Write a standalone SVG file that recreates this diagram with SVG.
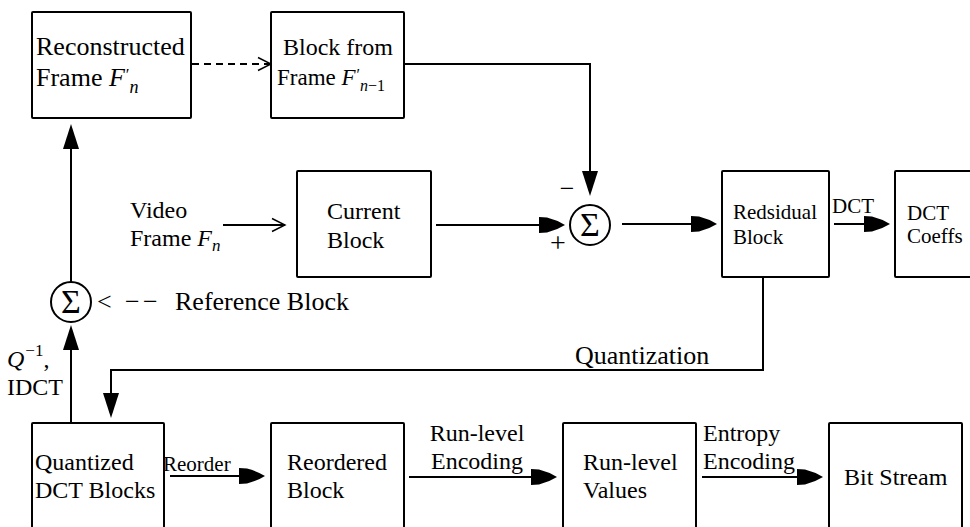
<svg xmlns="http://www.w3.org/2000/svg" width="970" height="527" viewBox="0 0 970 527">
<style>
.box{fill:#fff;stroke:#000;stroke-width:2}
.ln{fill:none;stroke:#000;stroke-width:2}
.t{font-family:"Liberation Serif","Times New Roman",serif;fill:#000}
.it{font-style:italic}
</style>
<defs>
<marker id="hat" markerUnits="userSpaceOnUse" markerWidth="30" markerHeight="20" viewBox="0 -10 30 20" refX="18" refY="0" orient="auto">
<path d="M0,-8 L8,-7.5 Q18,-5 26,0 Q18,5 8,7.5 L0,8 Z" fill="#000"/>
</marker>
<marker id="sol" markerUnits="userSpaceOnUse" markerWidth="30" markerHeight="20" viewBox="0 -10 30 20" refX="17" refY="0" orient="auto">
<path d="M0,-8 L25,0 L0,8 Z" fill="#000"/>
</marker>
<marker id="open" markerUnits="userSpaceOnUse" markerWidth="20" markerHeight="16" viewBox="0 -8 20 16" refX="14" refY="0" orient="auto">
<path d="M1,-6.5 L14,0 L1,6.5" fill="none" stroke="#000" stroke-width="1.4"/>
</marker>
</defs>

<g id="connectors">
<line class="ln" x1="192" y1="64" x2="271" y2="64" stroke-dasharray="7,5" marker-end="url(#open)"/>
<polyline class="ln" points="404,64 590,64 590,188" marker-end="url(#sol)"/>
<line class="ln" x1="223" y1="225" x2="285" y2="225" stroke-width="1.6" marker-end="url(#open)"/>
<line class="ln" x1="436" y1="225" x2="557" y2="225" marker-end="url(#hat)"/>
<line class="ln" x1="622" y1="224" x2="709" y2="224" marker-end="url(#hat)"/>
<line class="ln" x1="834" y1="224" x2="882" y2="224" marker-end="url(#hat)"/>
<polyline class="ln" points="763,277 763,370 111,370 111,410" marker-end="url(#sol)"/>
<line class="ln" x1="71" y1="423" x2="71" y2="333" marker-end="url(#sol)"/>
<line class="ln" x1="71" y1="282" x2="71" y2="132" marker-end="url(#sol)"/>
<line class="ln" x1="170" y1="476" x2="257" y2="476" marker-end="url(#hat)"/>
<line class="ln" x1="409" y1="477" x2="549" y2="477" marker-end="url(#hat)"/>
<line class="ln" x1="702" y1="477" x2="815" y2="477" marker-end="url(#hat)"/>
</g>

<g id="reconstructed">
<rect class="box" x="32" y="12" width="159" height="106" rx="1"/>
<text class="t" font-size="26" x="36" y="55">Reconstructed</text>
<text class="t" font-size="26" x="36" y="86">Frame <tspan class="it">F</tspan><tspan font-size="17" dx="1" dy="-6">′</tspan><tspan class="it" font-size="18" dy="13">n</tspan></text>
</g>

<g id="blockfrom">
<rect class="box" x="271" y="12" width="133" height="106" rx="1"/>
<text class="t" font-size="24" x="283" y="55">Block from</text>
<text class="t" font-size="23" x="277" y="85">Frame <tspan class="it">F</tspan><tspan font-size="16" dx="1" dy="-5">′</tspan><tspan font-size="16" dy="11"><tspan class="it">n</tspan>−1</tspan></text>
</g>

<g id="video">
<text class="t" font-size="24" x="130" y="218">Video</text>
<text class="t" font-size="24" x="130" y="246">Frame <tspan class="it">F</tspan><tspan class="it" font-size="17" dy="5">n</tspan></text>
</g>

<g id="current">
<rect class="box" x="297" y="171" width="134" height="106" rx="1"/>
<text class="t" font-size="24" x="327" y="219">Current</text>
<text class="t" font-size="24" x="327" y="248">Block</text>
</g>

<g id="sum1">
<circle cx="590" cy="225" r="20" fill="#fff" stroke="#000" stroke-width="2"/>
<text class="t" font-size="34" x="590" y="236" text-anchor="middle">Σ</text>
<text class="t" font-size="26" x="567" y="197" text-anchor="middle">−</text>
<text class="t" font-size="28" x="558" y="252" text-anchor="middle">+</text>
</g>

<g id="residual">
<rect class="box" x="722" y="171" width="107" height="106" rx="1"/>
<text class="t" font-size="21" x="733" y="219">Redsidual</text>
<text class="t" font-size="21" x="733" y="244">Block</text>
</g>

<text class="t" font-size="21" x="832" y="213">DCT</text>

<g id="coeffs">
<rect class="box" x="895" y="171" width="100" height="106" rx="1"/>
<text class="t" font-size="21" x="907" y="220">DCT</text>
<text class="t" font-size="21" x="907" y="243">Coeffs</text>
</g>

<g id="sum2">
<circle cx="71" cy="302" r="20" fill="#fff" stroke="#000" stroke-width="2"/>
<text class="t" font-size="34" x="71" y="313" text-anchor="middle">Σ</text>
</g>

<g id="reflabel">
<text class="t" font-size="26" x="97" y="310">&lt;</text>
<text class="t" font-size="26" x="125" y="310">−</text>
<text class="t" font-size="26" x="143" y="310">−</text>
<text class="t" font-size="26" x="175" y="310">Reference Block</text>
</g>

<g id="qlabel">
<text class="t" font-size="24" x="7" y="367"><tspan class="it">Q</tspan><tspan font-size="17" dx="1" dy="-11">−1</tspan><tspan dy="11">,</tspan></text>
<text class="t" font-size="24" x="7" y="395">IDCT</text>
</g>

<text class="t" font-size="26" x="575" y="364">Quantization</text>

<g id="quantized">
<rect class="box" x="32" y="423" width="132" height="130" rx="1"/>
<text class="t" font-size="24" x="35" y="470">Quantized</text>
<text class="t" font-size="24" x="35" y="498">DCT Blocks</text>
</g>

<text class="t" font-size="21" x="163" y="471">Reorder</text>

<g id="reordered">
<rect class="box" x="271" y="423" width="133" height="130" rx="1"/>
<text class="t" font-size="24" x="287" y="470">Reordered</text>
<text class="t" font-size="24" x="287" y="498">Block</text>
</g>

<text class="t" font-size="24" x="477" y="441" text-anchor="middle">Run-level</text>
<text class="t" font-size="24" x="477" y="469" text-anchor="middle">Encoding</text>

<g id="runlevel">
<rect class="box" x="563" y="423" width="133" height="130" rx="1"/>
<text class="t" font-size="24" x="583" y="470">Run-level</text>
<text class="t" font-size="24" x="583" y="498">Values</text>
</g>

<text class="t" font-size="24" x="703" y="441">Entropy</text>
<text class="t" font-size="24" x="703" y="469">Encoding</text>

<g id="bitstream">
<rect class="box" x="829" y="423" width="133" height="130" rx="1"/>
<text class="t" font-size="24" x="844" y="485">Bit Stream</text>
</g>
</svg>
